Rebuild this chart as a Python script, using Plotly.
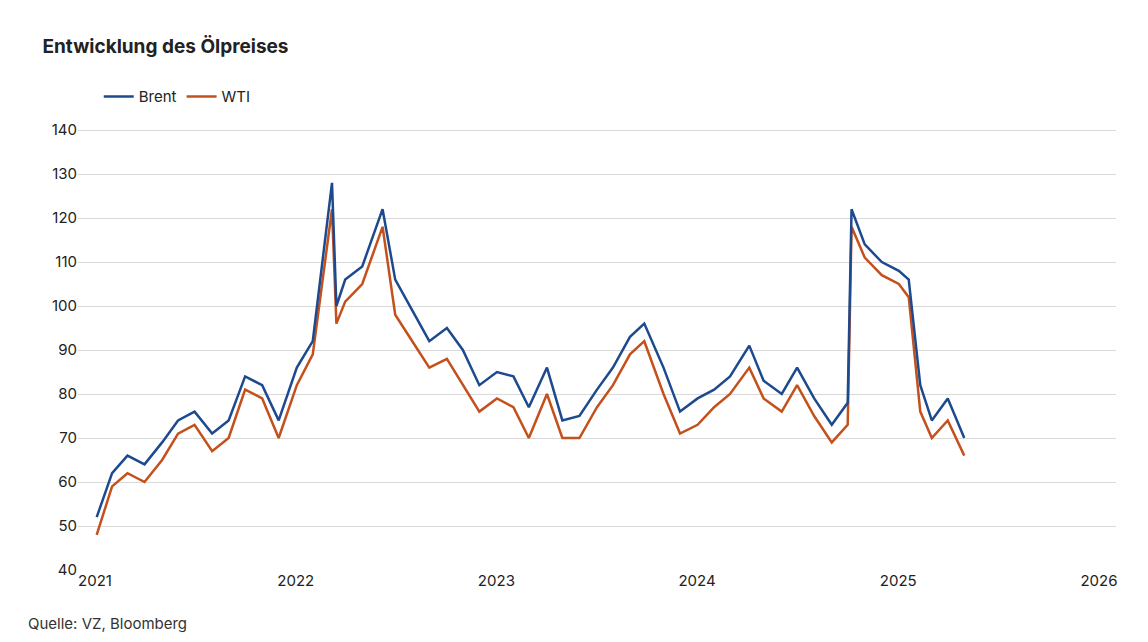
import plotly.graph_objects as go

dates = ["2021-01-04", "2021-02-01", "2021-03-01", "2021-04-01", "2021-05-03", "2021-06-01",
         "2021-07-01", "2021-08-02", "2021-09-01", "2021-10-01", "2021-11-01", "2021-12-01",
         "2022-01-03", "2022-02-01", "2022-03-08", "2022-03-16", "2022-04-01", "2022-05-02",
         "2022-06-08", "2022-07-01", "2022-08-01", "2022-09-01", "2022-10-03", "2022-11-01",
         "2022-12-01", "2023-01-02", "2023-02-01", "2023-03-01", "2023-04-03", "2023-05-01",
         "2023-06-01", "2023-07-03", "2023-08-01", "2023-09-01", "2023-09-27", "2023-11-01",
         "2023-12-01", "2024-01-02", "2024-02-01", "2024-03-01", "2024-04-05", "2024-05-01",
         "2024-06-03", "2024-07-01", "2024-08-01", "2024-09-02", "2024-10-01", "2024-10-08",
         "2024-11-01", "2024-12-02", "2025-01-02", "2025-01-20", "2025-02-10", "2025-03-03",
         "2025-04-01", "2025-05-01"]

brent = [52, 62, 66, 64, 69, 74, 76, 71, 74, 84, 82, 74,
         86, 92, 128, 100, 106, 109, 122, 106, 99, 92, 95, 90,
         82, 85, 84, 77, 86, 74, 75, 81, 86, 93, 96, 86,
         76, 79, 81, 84, 91, 83, 80, 86, 79, 73, 78, 122,
         114, 110, 108, 106, 82, 74, 79, 70]

wti = [48, 59, 62, 60, 65, 71, 73, 67, 70, 81, 79, 70,
       82, 89, 122, 96, 101, 105, 118, 98, 92, 86, 88, 82,
       76, 79, 77, 70, 80, 70, 70, 77, 82, 89, 92, 80,
       71, 73, 77, 80, 86, 79, 76, 82, 75, 69, 73, 118,
       111, 107, 105, 102, 76, 70, 74, 66]

y_ticks = [40, 50, 60, 70, 80, 90, 100, 110, 120, 130, 140]
x_ticks = ["2021-01-01", "2022-01-01", "2023-01-01", "2024-01-01", "2025-01-01", "2026-01-01"]
x_labels = ["2021", "2022", "2023", "2024", "2025", "2026"]

fig = go.Figure()
fig.add_trace(go.Scatter(x=dates, y=wti, name="WTI", mode="lines",
                         line=dict(color="#c4501c", width=2.5)))
fig.add_trace(go.Scatter(x=dates, y=brent, name="Brent", mode="lines",
                         line=dict(color="#1d4a8f", width=2.5)))

fig.update_layout(
    width=1148, height=642,
    paper_bgcolor="white", plot_bgcolor="white",
    font=dict(family="Inter, Roboto, sans-serif", size=15, color="#222"),
    title=dict(text="<b>Entwicklung des Ölpreises</b>", x=0.03, y=0.95, font=dict(size=19)),
    legend=dict(orientation="h", x=0.02, y=1.06, xanchor="left", traceorder="reversed",
                font=dict(size=15)),
    margin=dict(l=70, r=40, t=100, b=80),
    xaxis=dict(tickvals=x_ticks, ticktext=x_labels, showgrid=False,
               range=["2020-12-01", "2026-02-01"], showline=False, ticks=""),
    yaxis=dict(tickvals=y_ticks, range=[40, 145], gridcolor="#d9d9d9", zeroline=False),
    annotations=[dict(text="Quelle: VZ, Bloomberg", xref="paper", yref="paper",
                      x=-0.05, y=-0.14, xanchor="left", showarrow=False,
                      font=dict(size=15, color="#333"))],
)

fig.write_html("out.html")
